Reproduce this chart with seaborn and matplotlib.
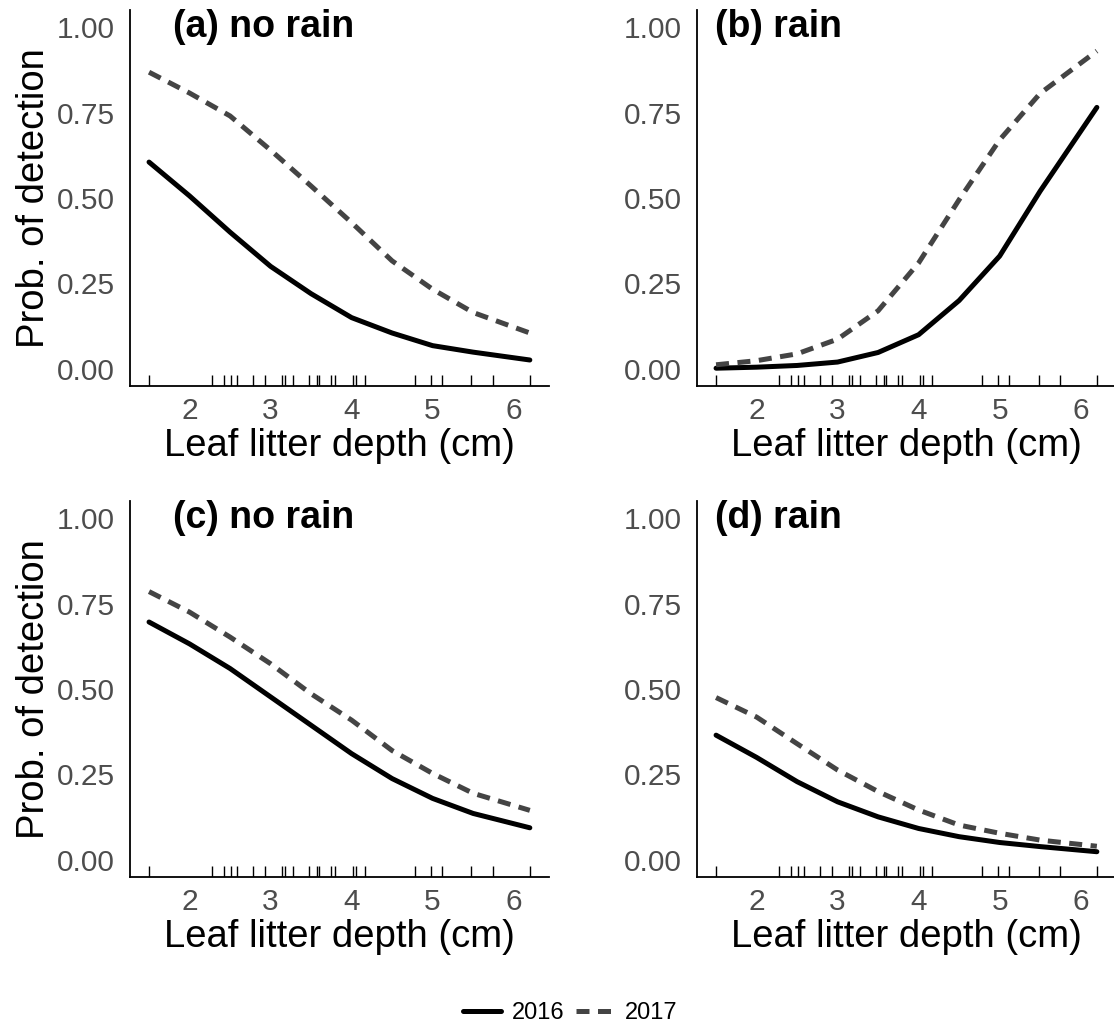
import matplotlib
matplotlib.use('Agg')
import matplotlib.pyplot as plt
from matplotlib.lines import Line2D
import pandas as pd
import seaborn as sns

sns.set_style('white')
plt.rcParams['font.family'] = ['Liberation Sans', 'DejaVu Sans']
plt.rcParams['text.color'] = 'black'

# observed leaf litter depths (rug)
rug_depth = [1.5, 2.28, 2.42, 2.51, 2.58, 2.78, 2.93, 3.14, 3.18, 3.28, 3.48,
             3.57, 3.6, 3.75, 3.8, 4.02, 4.06, 4.16, 4.78, 4.98, 5.12, 5.48,
             5.74, 6.2]

# prediction grid
depth = [1.5, 2.0, 2.5, 3.0, 3.5, 4.0, 4.5, 5.0, 5.5, 6.2]

panel_titles = ['(a) no rain', '(b) rain', '(c) no rain', '(d) rain']
years = ['2016', '2017']

a_2016 = [0.605, 0.506, 0.40, 0.30, 0.22, 0.15, 0.105, 0.068, 0.049, 0.026]
a_2017 = [0.868, 0.807, 0.74, 0.64, 0.535, 0.428, 0.316, 0.233, 0.165, 0.105]
b_2016 = [0.002, 0.005, 0.01, 0.02, 0.048, 0.10, 0.20, 0.33, 0.52, 0.765]
b_2017 = [0.012, 0.024, 0.044, 0.087, 0.17, 0.31, 0.495, 0.67, 0.806, 0.93]
c_2016 = [0.696, 0.632, 0.56, 0.477, 0.394, 0.311, 0.238, 0.18, 0.136, 0.094]
c_2017 = [0.785, 0.725, 0.652, 0.574, 0.486, 0.409, 0.32, 0.253, 0.195, 0.145]
d_2016 = [0.365, 0.30, 0.229, 0.17, 0.126, 0.092, 0.068, 0.051, 0.039, 0.024]
d_2017 = [0.475, 0.418, 0.34, 0.263, 0.20, 0.146, 0.102, 0.078, 0.058, 0.04]

panels = [(a_2016, a_2017), (b_2016, b_2017), (c_2016, c_2017), (d_2016, d_2017)]

colors = {'2016': 'black', '2017': '#444444'}
styles = {'2016': '-', '2017': (0, (2.6, 1.7))}
lw = 3.6

fig = plt.figure(figsize=(11.14, 10.29), dpi=100)
positions = [
    [0.1167, 0.6249, 0.376, 0.3654],
    [0.6257, 0.6249, 0.376, 0.3654],
    [0.1167, 0.1477, 0.376, 0.3654],
    [0.6257, 0.1477, 0.376, 0.3654],
]
title_x = [0.103, 0.043, 0.103, 0.043]

for i, (pos, (p16, p17)) in enumerate(zip(positions, panels)):
    ax = fig.add_axes(pos)
    df = pd.DataFrame({'depth': depth * 2, 'prob': p16 + p17,
                       'year': ['2016'] * len(depth) + ['2017'] * len(depth)})
    for yr in years:
        sns.lineplot(data=df[df['year'] == yr], x='depth', y='prob', ax=ax,
                     color=colors[yr], linestyle=styles[yr], lw=lw,
                     legend=False)
    sns.rugplot(x=rug_depth, ax=ax, height=0.03, color='black', lw=2.0)

    ax.set_xlim(1.265, 6.435)
    ax.set_ylim(-0.05, 1.05)
    ax.set_xticks([2, 3, 4, 5, 6])
    ax.set_yticks([0, 0.25, 0.5, 0.75, 1.0])
    ax.set_yticklabels(['0.00', '0.25', '0.50', '0.75', '1.00'])
    ax.tick_params(axis='both', direction='out', length=5, width=1.2,
                   color='#333333', labelsize=21.5, labelcolor='#4D4D4D')
    ax.tick_params(axis='y', pad=6)
    ax.tick_params(axis='x', pad=3)
    for s in ['top', 'right']:
        ax.spines[s].set_visible(False)
    for s in ['left', 'bottom']:
        ax.spines[s].set_color('black')
        ax.spines[s].set_linewidth(1.3)
    ax.set_xlabel('Leaf litter depth (cm)', fontsize=27.5, color='black',
                  labelpad=2)
    if i % 2 == 0:
        ax.set_ylabel('Prob. of detection', fontsize=27.5, color='black',
                      labelpad=3)
    else:
        ax.set_ylabel('')
    ax.text(title_x[i], 1.05 / 1.1, panel_titles[i], transform=ax.transAxes,
            fontsize=27, fontweight='bold', color='black',
            va='center', ha='left')
    ax.grid(False)

handles = [Line2D([], [], color=colors[yr], linestyle=styles[yr], lw=lw)
           for yr in years]
fig.legend(handles, years, loc='center', bbox_to_anchor=(0.512, 0.0155),
           ncol=2, frameon=False, fontsize=17, handlelength=1.6,
           handletextpad=0.45, columnspacing=0.5)

fig.savefig('out.png', dpi=100, facecolor='white')
